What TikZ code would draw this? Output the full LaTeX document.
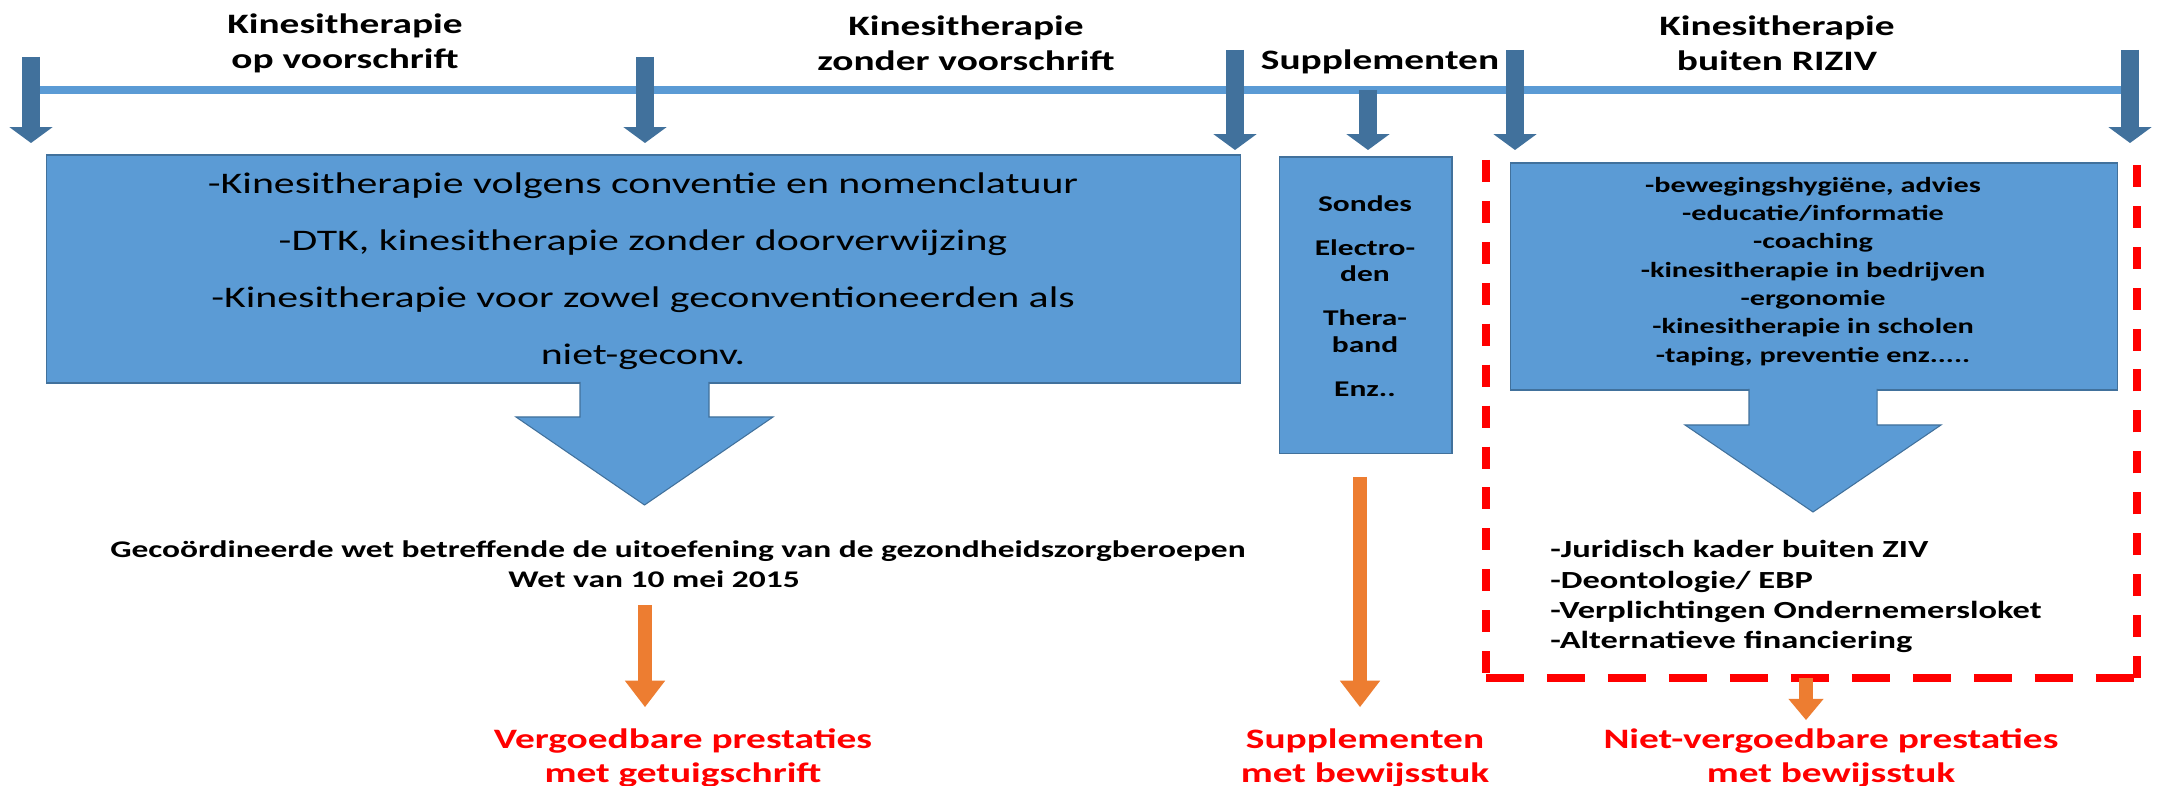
\documentclass[tikz,border=0pt]{standalone}
\usepackage{fontspec}
\setmainfont[FakeStretch=1.4]{Carlito}
\usetikzlibrary{arrows.meta}

\definecolor{vakblauw}{HTML}{5B9BD5}
\definecolor{randblauw}{HTML}{41719C}
\definecolor{pijlblauw}{HTML}{41719C}
\definecolor{oranje}{HTML}{ED7D31}
\definecolor{rood}{HTML}{FF0000}

\begin{document}
\begin{tikzpicture}[x=0.02cm, y=-0.02cm,
  titre/.style={font=\bfseries\fontsize{16}{19.9}\selectfont, align=center, inner sep=0pt},
  vak/.style={draw=randblauw, line width=0.6pt, fill=vakblauw, inner sep=0pt},
  blokpijl/.style={draw=randblauw, line width=0.6pt, fill=vakblauw},
  tekst/.style={align=center, inner sep=0pt},
  label rouge/.style={text=rood, font=\bfseries\fontsize{16}{19.35}\selectfont, align=center, inner sep=0pt},
  ligne/.style={draw=vakblauw, line width=4.6pt},
  fleche/.style={draw=pijlblauw, line width=10.5pt, -{Triangle[width=24.5pt,length=9pt,line width=0pt]}},
  oranjepijl/.style={draw=oranje, line width=8pt, -{Triangle[width=23pt,length=15pt,line width=0pt]}},
  kader/.style={draw=rood, line width=4.8pt}]

   \path[fill=white, use as bounding box] (0,0) rectangle (2159,786);

   % titres en haut
   \node[titre] (t1) at (345,43.2) {Kinesitherapie\\op voorschrift};
   \node[titre] (t2) at (966,43.2) {Kinesitherapie\\zonder voorschrift};
   \node[titre] (t3) at (1380,61.7) {Supplementen};
   \node[titre] (t4) at (1777,43.2) {Kinesitherapie\\buiten RIZIV};

   % ligne du temps
   \coordinate (l0) at (31,90);
   \coordinate (l1) at (2130,90);
   \draw[ligne] (l0) -- (l1);

   % fleches vers le bas
   \coordinate (h1) at (31,57);    \coordinate (b1) at (31,143);
   \coordinate (h2) at (645,57);   \coordinate (b2) at (645,143);
   \coordinate (h3) at (1235,50);  \coordinate (b3) at (1235,150);
   \coordinate (h4) at (1368,90);  \coordinate (b4) at (1368,150);
   \coordinate (h5) at (1515,50);  \coordinate (b5) at (1515,150);
   \coordinate (h6) at (2130,50);  \coordinate (b6) at (2130,143);
   \draw[fleche] (h1) -- (b1);
   \draw[fleche] (h2) -- (b2);
   \draw[fleche] (h3) -- (b3);
   \draw[fleche] (h4) -- (b4);
   \draw[fleche] (h5) -- (b5);
   \draw[fleche] (h6) -- (b6);

   % blocs bleus
   \node[vak, minimum width=23.9cm, minimum height=4.56cm] (v1) at (643.5,269) {};
   \node[vak, minimum width=3.46cm, minimum height=5.94cm] (v2) at (1365.5,305.5) {};
   \node[vak, minimum width=12.16cm, minimum height=4.54cm] (v3) at (1814,276.5) {};
   \filldraw[blokpijl] (580,382) -- (580,417) -- (516,417) -- (644.5,505) -- (773,417) -- (709,417) -- (709,382);
   \filldraw[blokpijl] (1749,389) -- (1749,425) -- (1685,425) -- (1813,512) -- (1941,425) -- (1877,425) -- (1877,389);

   \node[tekst, font=\fontsize{17}{32.4}\selectfont] (k1) at (643,271)
     {-Kinesitherapie volgens conventie en nomenclatuur\\-DTK, kinesitherapie zonder doorverwijzing\\-Kinesitherapie voor zowel geconventioneerden als\\niet-geconv.};
   \node[tekst, font=\bfseries\fontsize{12.8}{15}\selectfont] (k2) at (1365,296)
     {Sondes\\[10pt]Electro-\\den\\[10pt]Thera-\\band\\[10pt]Enz..};
   \node[tekst, font=\bfseries\fontsize{12.3}{16.1}\selectfont] (k3) at (1813,271.5)
     {-bewegingshygiëne, advies\\-educatie/informatie\\-coaching\\-kinesitherapie in bedrijven\\-ergonomie\\-kinesitherapie in scholen\\-taping, preventie enz.....};

   % cadre rouge
   \coordinate (rhg) at (1486,160);
   \coordinate (rbg) at (1486,678);
   \coordinate (rbd) at (2137,678);
   \coordinate (rhd) at (2137,155);
   \draw[kader, dash pattern=on 12.5pt off 10.8pt] (rhg) -- (rbg);
   \draw[kader, dash pattern=on 21.6pt off 13.1pt] (rbg) -- (rbd);
   \draw[kader, dash pattern=on 12.5pt off 10.8pt] (rbd) -- (rhd);

   % textes du milieu
   \node[anchor=base, inner sep=0pt, font=\bfseries\fontsize{13.6}{17}\selectfont] (g1) at (678,558)
     {Gecoördineerde wet betreffende de uitoefening van de gezondheidszorgberoepen};
   \node[anchor=base, inner sep=0pt, font=\bfseries\fontsize{13.6}{17}\selectfont] (g2) at (654,587)
     {Wet van 10 mei 2015};
   \node[anchor=west, align=left, inner sep=0pt, font=\bfseries\fontsize{14}{17.25}\selectfont] (j1) at (1550,596.7)
     {-Juridisch kader buiten ZIV\\-Deontologie/ EBP\\-Verplichtingen Ondernemersloket\\-Alternatieve financiering};

   % fleches oranges
   \coordinate (o1) at (645,605);   \coordinate (p1) at (645,707);
   \coordinate (o2) at (1360,477);  \coordinate (p2) at (1360,707);
   \coordinate (o3) at (1806,678);  \coordinate (p3) at (1806,720);
   \draw[oranjepijl] (o1) -- (p1);
   \draw[oranjepijl] (o2) -- (p2);
   \draw[oranjepijl, -{Triangle[width=20pt,length=12pt,line width=0pt]}] (o3) -- (p3);

   % labels rouges
   \node[label rouge] (e1) at (683,757.6) {Vergoedbare prestaties\\met getuigschrift};
   \node[label rouge] (e2) at (1365,757.6) {Supplementen\\met bewijsstuk};
   \node[label rouge] (e3) at (1831,757.6) {Niet-vergoedbare prestaties\\met bewijsstuk};

\end{tikzpicture}
\end{document}
